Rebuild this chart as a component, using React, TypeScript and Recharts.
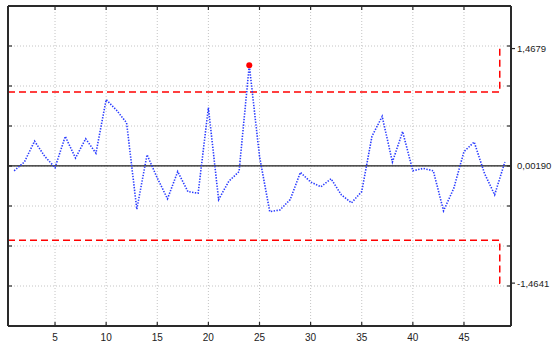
import * as React from "react";
import { LineChart, Line, XAxis, YAxis, CartesianGrid, ReferenceLine } from "recharts";

// sample values, 1..49
const SERIES = [
  -0.06, 0.05, 0.31, 0.12, -0.02, 0.37, 0.1, 0.34, 0.16, 0.83,
  0.7, 0.54, -0.54, 0.14, -0.15, -0.41, -0.07, -0.32, -0.34, 0.73,
  -0.42, -0.19, -0.07, 1.26, 0.12, -0.57, -0.55, -0.42, -0.08, -0.2,
  -0.26, -0.16, -0.36, -0.46, -0.32, 0.37, 0.62, 0.05, 0.43, -0.06,
  -0.03, -0.06, -0.56, -0.28, 0.18, 0.3, -0.09, -0.36, 0.05,
];

const X_TICKS = [5, 10, 15, 20, 25, 30, 35, 40, 45];
const Y_GRID = [-1.5, -1, -0.5, 0, 0.5, 1, 1.5];
const X_DOMAIN = [0.4, 49.6];
const Y_DOMAIN = [-2, 2];

const CENTER = 0.0019;
const UCL = 1.4679;
const LCL = -1.4641;
const UCL_LINE = 0.925;
const LCL_LINE = -0.929;
const LIMIT_START = 0.4;
const LIMIT_BEND = 48.5;
const LIMIT_END = 48.8;
const RIGHT_LABELS = [UCL, CENTER, LCL];

const fmt = (v: number) => (v === CENTER ? "0,00190" : v.toFixed(4).replace(".", ","));

const rows = SERIES.map((v, i) => ({ x: i + 1, v }));
const uclRows = [
  { x: LIMIT_START, v: UCL_LINE },
  { x: LIMIT_BEND, v: UCL_LINE },
  { x: LIMIT_BEND, v: UCL },
  { x: LIMIT_END, v: UCL },
];
const lclRows = [
  { x: LIMIT_START, v: LCL_LINE },
  { x: LIMIT_BEND, v: LCL_LINE },
  { x: LIMIT_BEND, v: LCL },
  { x: LIMIT_END, v: LCL },
];

const FRAME = "#2a2a2a";
const FONT = "'Liberation Sans', Arial, sans-serif";

function BottomTick(props: any) {
  const { x, y, payload } = props;
  return (
    <g>
      <line x1={x} y1={y} x2={x} y2={y - 4} stroke={FRAME} strokeWidth={1.2} />
      <text x={x} y={y + 15} textAnchor="middle" fontSize={10} fontFamily={FONT} fill="#222">
        {payload.value}
      </text>
    </g>
  );
}

function TopTick(props: any) {
  const { x, y } = props;
  return <line x1={x} y1={y} x2={x} y2={y + 4} stroke={FRAME} strokeWidth={1.2} />;
}

function LeftTick(props: any) {
  const { x, y } = props;
  return <line x1={x} y1={y} x2={x + 4} y2={y} stroke={FRAME} strokeWidth={1.2} />;
}

function RightTick(props: any) {
  const { x, y, payload } = props;
  if (RIGHT_LABELS.includes(payload.value)) {
    return (
      <g>
        {payload.value !== CENTER && (
          <line x1={x} y1={y} x2={x + 4} y2={y} stroke={FRAME} strokeWidth={1.2} />
        )}
        <text x={x + 6} y={y + 3.5} fontSize={9.5} fontFamily={FONT} fill="#222">
          {fmt(payload.value)}
        </text>
      </g>
    );
  }
  return <line x1={x} y1={y} x2={x - 4} y2={y} stroke={FRAME} strokeWidth={1.2} />;
}

function OutDot(props: any) {
  const { cx, cy, payload } = props;
  if (payload.v > UCL_LINE || payload.v < LCL_LINE) {
    return <circle cx={cx} cy={cy} r={3} fill="#ff0000" stroke="none" />;
  }
  return <g />;
}

export default function App() {
  return (
    <div style={{ position: "absolute", left: 0, top: 0, background: "#fff" }}>
      <LineChart width={555} height={344} data={rows} margin={{ top: 5, left: 7, right: 0, bottom: 0 }}>
        <CartesianGrid xAxisId="b" yAxisId="l" stroke="#c4c4c4" strokeDasharray="1 2" />
        <XAxis xAxisId="b" dataKey="x" type="number" domain={X_DOMAIN} ticks={X_TICKS} interval={0}
          allowDataOverflow height={18} tickSize={0} tickMargin={0} tickLine={false}
          axisLine={{ stroke: FRAME, strokeWidth: 2 }} tick={<BottomTick />} />
        <XAxis xAxisId="t" orientation="top" dataKey="x" type="number" domain={X_DOMAIN} ticks={X_TICKS}
          interval={0} allowDataOverflow height={1} tickSize={0} tickMargin={0} tickLine={false}
          axisLine={{ stroke: FRAME, strokeWidth: 2 }} tick={<TopTick />} />
        <YAxis yAxisId="l" type="number" domain={Y_DOMAIN} ticks={Y_GRID} interval={0} allowDataOverflow
          width={1} tickSize={0} tickMargin={0} tickLine={false}
          axisLine={{ stroke: FRAME, strokeWidth: 2 }} tick={<LeftTick />} />
        <YAxis yAxisId="r" orientation="right" type="number" domain={Y_DOMAIN}
          ticks={[...Y_GRID, ...RIGHT_LABELS]} interval={0} allowDataOverflow width={44}
          tickSize={0} tickMargin={0} tickLine={false}
          axisLine={{ stroke: FRAME, strokeWidth: 2 }} tick={<RightTick />} />
        <ReferenceLine xAxisId="b" yAxisId="l" y={CENTER} stroke="#1a1a1a" strokeWidth={1.3} />
        <Line xAxisId="b" yAxisId="l" data={uclRows} dataKey="v" type="linear" stroke="#ff0000"
          strokeWidth={1.5} strokeDasharray="7 4" dot={false} isAnimationActive={false} />
        <Line xAxisId="b" yAxisId="l" data={lclRows} dataKey="v" type="linear" stroke="#ff0000"
          strokeWidth={1.5} strokeDasharray="7 4" dot={false} isAnimationActive={false} />
        <Line xAxisId="b" yAxisId="l" dataKey="v" type="linear" stroke="#2a3cff" strokeWidth={1.6}
          strokeDasharray="1.4 1.4" dot={<OutDot />} activeDot={false} isAnimationActive={false} />
      </LineChart>
    </div>
  );
}
